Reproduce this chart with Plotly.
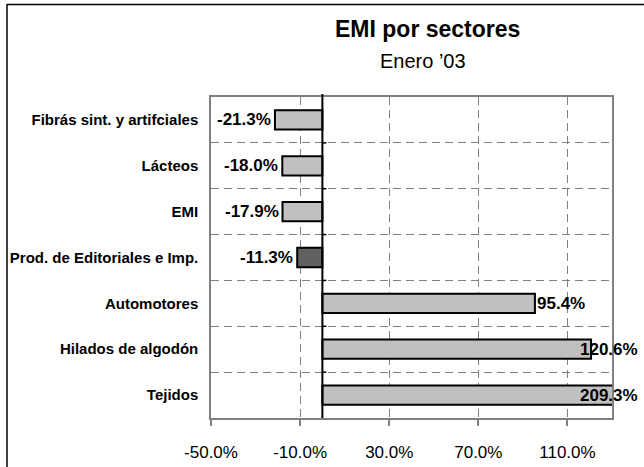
import plotly.graph_objects as go

categories = ["Fibrás sint. y artifciales", "Lácteos", "EMI", "Prod. de Editoriales e Imp.",
              "Automotores", "Hilados de algodón", "Tejidos"]
values = [-21.3, -18.0, -17.9, -11.3, 95.4, 120.6, 209.3]
highlight = "Prod. de Editoriales e Imp."
x_ticks = [-50, -10, 30, 70, 110]
x_range = [-50, 130]

W, H = 644, 467
L, R, T, B = 211, 612, 97, 418
pw, ph = R - L, B - T

def px(xp):
    return (xp - L) / pw

def py(yp):
    return 1 + (T - yp) / ph

ypos = list(range(len(categories)))
colors = ["#606060" if c == highlight else "#c0c0c0" for c in categories]

fig = go.Figure()
fig.add_trace(go.Bar(
    x=values, y=ypos, orientation="h", width=0.42,
    marker=dict(color=colors, line=dict(color="black", width=2)),
    hoverinfo="skip",
))

font = "Liberation Sans, Arial, sans-serif"
unit_px = pw / (x_range[1] - x_range[0])
chart_right = 640
annotations = []
for v, y in zip(values, ypos):
    txt = f"{v:.1f}%"
    est_w = len(txt) * 10.5
    lab_font = dict(size=17, color="black", family=font)
    if v < 0:
        annotations.append(dict(x=v, y=y, xref="x", yref="y", text=f"<b>{txt}</b>",
                                xanchor="right", yanchor="middle", xshift=-2, showarrow=False,
                                font=lab_font))
    else:
        end_px = L + (min(v, x_range[1]) - x_range[0]) * unit_px
        if end_px + est_w > chart_right:
            annotations.append(dict(x=px(chart_right), y=y, xref="paper", yref="y",
                                    text=f"<b>{txt}</b>", xanchor="right", yanchor="middle",
                                    showarrow=False, font=lab_font))
        else:
            annotations.append(dict(x=v, y=y, xref="x", yref="y", text=f"<b>{txt}</b>",
                                    xanchor="left", yanchor="middle", showarrow=False,
                                    font=lab_font))

annotations.append(dict(x=px(427), y=py(29), xref="paper", yref="paper",
                        text="<b>EMI por sectores</b>", showarrow=False,
                        xanchor="center", yanchor="middle",
                        font=dict(size=23, color="black", family=font)))
annotations.append(dict(x=px(423), y=py(61), xref="paper", yref="paper",
                        text="Enero ’03", showarrow=False,
                        xanchor="center", yanchor="middle",
                        font=dict(size=20, color="black", family=font)))

shapes = []
# zero axis line
shapes.append(dict(type="line", xref="x", yref="paper", x0=0, x1=0, y0=0, y1=py(94),
                   line=dict(color="black", width=2)))
# small tick marks on the zero axis at category boundaries
tick_units = 4 / unit_px
for i in range(len(categories) - 1):
    shapes.append(dict(type="line", xref="x", yref="y", x0=0, x1=tick_units,
                       y0=i + 0.5, y1=i + 0.5, line=dict(color="black", width=1.5)))
# outer chart border (left and top edges visible in the frame)
shapes.append(dict(type="line", xref="paper", yref="paper",
                   x0=px(7), x1=px(7), y0=py(470), y1=py(4),
                   line=dict(color="black", width=1.5)))
shapes.append(dict(type="line", xref="paper", yref="paper",
                   x0=px(7), x1=px(650), y0=py(4.5), y1=py(4.5),
                   line=dict(color="black", width=1.5)))

fig.update_layout(
    width=W, height=H,
    margin=dict(l=L, r=W - R, t=T, b=H - B, autoexpand=False),
    paper_bgcolor="white", plot_bgcolor="white",
    showlegend=False,
    font=dict(family=font, color="black"),
    annotations=annotations,
    shapes=shapes,
)
fig.update_xaxes(
    range=x_range, tickvals=x_ticks, ticktext=[f"{t:.1f}%" for t in x_ticks],
    tickfont=dict(size=17, color="black"),
    ticks="outside", ticklen=6, tickcolor="#808080", tickwidth=1.5,
    ticklabelstandoff=12,
    showgrid=True, gridcolor="#808080", griddash="8px,5px", gridwidth=1,
    zeroline=False,
    showline=True, linecolor="#808080", linewidth=1.5, mirror=True,
)
fig.update_yaxes(
    range=[len(categories) - 0.5, -0.5],
    tickvals=ypos, ticktext=[f"<b>{c}</b>" for c in categories],
    tickfont=dict(size=15, color="black"),
    ticks="", ticklabelstandoff=8,
    showgrid=False, zeroline=False,
    minor=dict(tickvals=[i + 0.5 for i in range(len(categories) - 1)], showgrid=True,
               gridcolor="#808080", griddash="8px,5px", gridwidth=1, ticks=""),
    showline=True, linecolor="#808080", linewidth=1.5, mirror=True,
)

fig.write_html("out.html", config={"displayModeBar": False},
               post_script="document.body.style.margin='0px';")
